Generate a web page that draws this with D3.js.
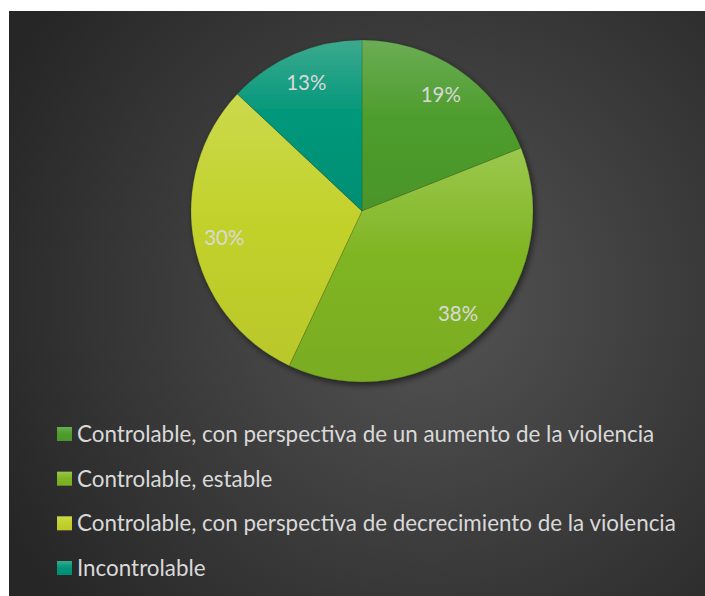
<!DOCTYPE html>
<html><head><meta charset="utf-8">
<script src="https://cdn.jsdelivr.net/npm/d3@7"></script>
<style>html,body{margin:0;padding:0;background:#fff}svg{display:block}</style>
</head><body>
<script>
const categories = [
  "Controlable, con perspectiva de un aumento de la violencia",
  "Controlable, estable",
  "Controlable, con perspectiva de decrecimiento de la violencia",
  "Incontrolable"
];
const values = [19, 38, 30, 13];
const labels = ["19%", "38%", "30%", "13%"];
const baseColors = ["#4e9d2d", "#80b524", "#c3d22c", "#00977a"];
const topColors  = ["#6bad55", "#9bc84d", "#cbd94d", "#3ca98e"];

const W = 705, H = 596;
const svg = d3.select("body").append("svg").attr("width", W).attr("height", H);
const defs = svg.append("defs");

const bg = defs.append("radialGradient").attr("id", "bg")
  .attr("gradientUnits", "userSpaceOnUse")
  .attr("cx", 430).attr("cy", 300).attr("r", 480);
bg.append("stop").attr("offset", "0").attr("stop-color", "#545454");
bg.append("stop").attr("offset", "1").attr("stop-color", "#262626");

baseColors.forEach((c, i) => {
  const g = defs.append("linearGradient").attr("id", "g" + i)
    .attr("x1", 0).attr("y1", 0).attr("x2", 0).attr("y2", 1);
  g.append("stop").attr("offset", "0").attr("stop-color", topColors[i]);
  g.append("stop").attr("offset", "0.45").attr("stop-color", baseColors[i]);
  g.append("stop").attr("offset", "1").attr("stop-color", d3.color(baseColors[i]).darker(0.15));
});

const f = defs.append("filter").attr("id", "sh").attr("x", "-20%").attr("y", "-20%").attr("width", "140%").attr("height", "140%");
f.append("feDropShadow").attr("dx", 2).attr("dy", 3).attr("stdDeviation", 3)
  .attr("flood-color", "#000").attr("flood-opacity", 0.55);

svg.append("rect").attr("x", 9).attr("y", 11).attr("width", W - 9).attr("height", H - 11)
  .attr("fill", "url(#bg)");

const cx = 362, cy = 211, r = 171;
const pie = d3.pie().value(d => d).sort(null);
const arcs = pie(values);
const arc = d3.arc().innerRadius(0).outerRadius(r);
const labelArc = d3.arc().innerRadius(r * 0.82).outerRadius(r * 0.82);

const g = svg.append("g").attr("transform", `translate(${cx},${cy})`);
const shadowG = g.append("g").attr("filter", "url(#sh)");
shadowG.selectAll("path").data(arcs).join("path")
  .attr("d", arc)
  .attr("fill", (d, i) => `url(#g${i})`)
  .attr("stroke", "rgba(40,60,20,0.35)")
  .attr("stroke-width", 0.6);

g.selectAll("text.lbl").data(arcs).join("text")
  .attr("class", "lbl")
  .attr("transform", d => `translate(${labelArc.centroid(d)})`)
  .attr("text-anchor", "middle")
  .attr("dy", "0.36em")
  .attr("font-family", "Lato")
  .attr("font-size", 20.5)
  .attr("fill", "#d9d9d9")
  .text((d, i) => labels[i]);

const legend = svg.append("g");
const rowY = d3.scalePoint().domain(d3.range(categories.length)).range([442, 576]);
const lg = legend.selectAll("g").data(categories).join("g")
  .attr("transform", (d, i) => `translate(57,${rowY(i)})`);
lg.append("rect").attr("x", 0).attr("y", -15).attr("width", 15).attr("height", 14)
  .attr("fill", (d, i) => `url(#g${i})`);
lg.append("text").attr("x", 20).attr("y", 0)
  .attr("font-family", "Lato")
  .attr("font-size", 22.4)
  .attr("fill", "#d9d9d9")
  .text(d => d);
</script>
</body></html>
